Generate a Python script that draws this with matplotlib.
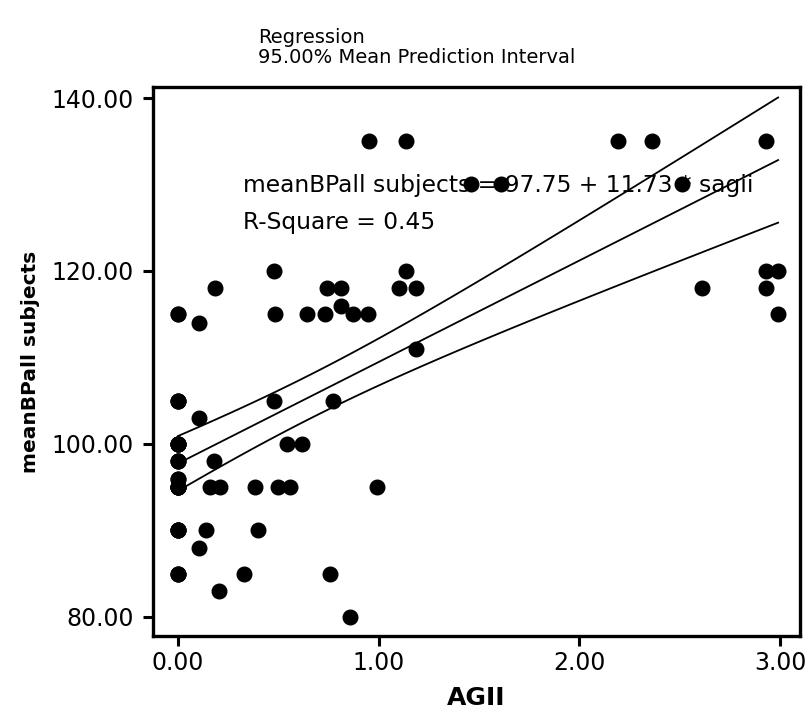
import numpy as np
import matplotlib.pyplot as plt

# AGII score and mean blood pressure
agii = [0.0, 0.0, 0.0, 0.0, 0.0, 0.0, 0.0, 0.0,
        0.107, 0.107, 0.107, 0.14, 0.16, 0.21, 0.177, 0.185, 0.205,
        0.33, 0.385, 0.397, 0.477, 0.477, 0.485, 0.50, 0.56, 0.543, 0.618,
        0.645, 0.73, 0.743, 0.755, 0.77, 0.81, 0.81, 0.857, 0.87, 0.945,
        0.95, 0.993, 1.10, 1.135, 1.135, 1.185, 1.185, 1.46, 1.61,
        2.19, 2.36, 2.51, 2.61, 2.93, 2.93, 2.93, 2.99, 2.99]
mean_bp = [115, 105, 100, 98, 96, 95, 90, 85,
           114, 103, 88, 90, 95, 95, 98, 118, 83,
           85, 95, 90, 120, 105, 115, 95, 95, 100, 100,
           115, 115, 118, 85, 105, 118, 116, 80, 115, 115,
           135, 95, 118, 135, 120, 118, 111, 130, 130,
           135, 135, 130, 118, 135, 120, 118, 120, 115]

# subjects with AGII = 0 drawn on top of each other (hidden under the dots above)
overlap_bp_at_zero = [85, 90, 90, 95, 95, 95, 95, 96, 98, 98,
                      100, 100, 100, 105, 105, 115, 90, 95, 100, 85]

intercept = 97.75
slope = 11.73
r_square = 0.45
t_crit = 1.993

x = np.array(agii + [0.0] * len(overlap_bp_at_zero))
y = np.array(mean_bp + overlap_bp_at_zero)
n = len(x)
resid = y - (intercept + slope * x)
s = np.sqrt(np.sum(resid ** 2) / (n - 2))
xs = np.linspace(x.min(), x.max(), 60)
fit = intercept + slope * xs
half = t_crit * s * np.sqrt(1 / n + (xs - x.mean()) ** 2 / np.sum((x - x.mean()) ** 2))

fig = plt.figure(figsize=(8.07, 7.15), dpi=100)
ax = fig.add_axes([0.189, 0.1105, 0.8023, 0.7678])

ax.plot(xs, fit, color="black", lw=1.3, zorder=2)
ax.plot(xs, fit + half, color="black", lw=1.3, zorder=2)
ax.plot(xs, fit - half, color="black", lw=1.3, zorder=2)
ax.plot(x, y, "o", color="black", ms=10.5, zorder=4)

ax.text(0.324, 129.9, "meanBPall subjects = 97.75 + 11.73 * sagii",
        fontsize=16.8, va="center", ha="left", zorder=3)
ax.text(0.324, 125.6, f"R-Square = {r_square:.2f}",
        fontsize=16.8, va="center", ha="left", zorder=3)

ax.set_xlim(-0.127, 3.099)
ax.set_ylim(77.8, 141.27)
ax.set_xticks([0, 1, 2, 3])
ax.set_xticklabels(["0.00", "1.00", "2.00", "3.00"])
ax.set_yticks([80, 100, 120, 140])
ax.set_yticklabels(["80.00", "100.00", "120.00", "140.00"])
ax.tick_params(axis="both", labelsize=17, length=7.5, width=2.2)
ax.tick_params(axis="x", pad=3)
ax.tick_params(axis="y", pad=6)
for sp in ax.spines.values():
    sp.set_linewidth(2.4)

ax.set_xlabel("AGII", fontsize=18, fontweight="bold", labelpad=8)
ax.set_ylabel("meanBPall subjects", fontsize=14.5, fontweight="bold", labelpad=8)

fig.text(0.32, 0.947, "Regression", fontsize=14, va="center", ha="left")
fig.text(0.32, 0.919, "95.00% Mean Prediction Interval", fontsize=14, va="center", ha="left")

fig.savefig("out.png", dpi=100)
